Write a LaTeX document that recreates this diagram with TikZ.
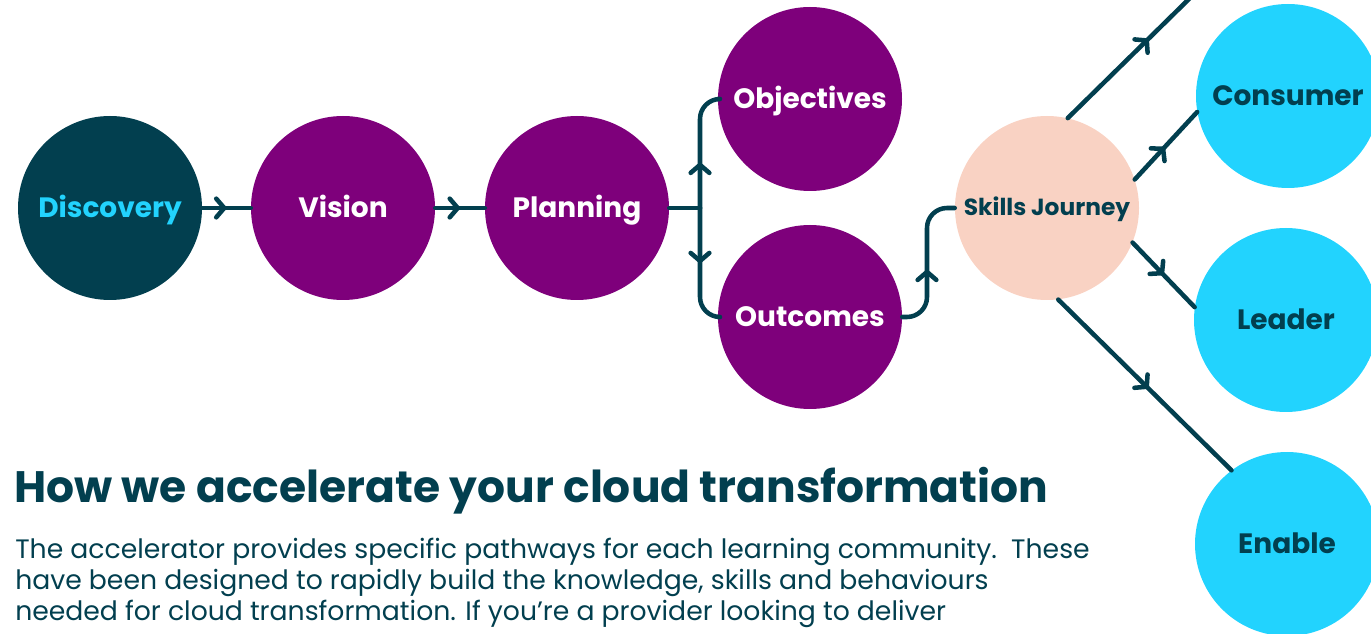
\documentclass[tikz,border=0pt]{standalone}
\usepackage{fontspec}
\setmainfont{Poppins}
\usetikzlibrary{arrows.meta,decorations.markings,calc}
\definecolor{teal}{HTML}{023F4F}
\definecolor{purp}{HTML}{7E007B}
\definecolor{cyanc}{HTML}{22D3FE}
\definecolor{peach}{HTML}{F9D2C3}
\tikzset{
  bub/.style={circle,minimum size=138pt,inner sep=0pt,text height=14pt,text depth=0pt,font=\bfseries\fontsize{21}{21}\selectfont},
  purpbub/.style={bub,fill=purp,text=white},
  cyanbub/.style={bub,fill=cyanc,text=teal},
  conn/.style={draw=teal,line width=3.4pt,line cap=round,line join=round},
  mid/.style={postaction={decorate},decoration={markings,mark=at position #1 with {\arrow[teal,line width=3.4pt]{Straight Barb[length=6pt,width=14pt,round]}}}},
  body/.style={anchor=base west,inner sep=0pt,text=teal,font=\fontsize{20}{20}\selectfont}
}
\begin{document}
\begin{tikzpicture}[x=0.75pt,y=-0.75pt]
\useasboundingbox (0,0) rectangle (1371,634);
\node[bub,fill=teal,text=cyanc] (disc) at (110,208) {Discovery};
\node[purpbub] (vis) at (343,208) {Vision};
\node[purpbub] (plan) at (577,208) {Planning};
\node[purpbub] (obj) at (810,99) {Objectives};
\node[purpbub] (out) at (810,317) {Outcomes};
\node[bub,fill=peach,text=teal,text height=12pt,font=\bfseries\fontsize{17.5}{17.5}\selectfont] (sk) at (1047,208) {Skills Journey};
\node[cyanbub] (con) at (1288,96) {Consumer};
\node[cyanbub] (lead) at (1286,320) {Leader};
\node[cyanbub] (en) at (1287,544) {Enable};
\coordinate (j1) at (700,208);
\coordinate (j2) at (927,208);
\coordinate (topend) at (1190,-2);
\draw[conn,mid=0.5] (disc) -- (vis);
\draw[conn,mid=0.5] (vis) -- (plan);
\draw[conn] (plan) -- (j1);
\draw[conn,rounded corners=15pt,mid=0.37] (j1) |- (obj.west);
\draw[conn,rounded corners=15pt,mid=0.45] (j1) |- (out.west);
\draw[conn,rounded corners=15pt,mid=0.44] (out.east) -| (j2) -- (sk.west);
\draw[conn,mid=0.66] (sk.77) -- (topend);
\draw[conn,mid=0.48] (sk.18) -- (con.190);
\draw[conn,mid=0.5] (sk.-22) -- (lead.172);
\draw[conn,mid=0.52] (sk.-83) -- (en.127);
\node[anchor=base west,inner sep=0pt,text=teal,font=\bfseries\fontsize{33}{33}\selectfont] (head) at (14,503) {How we accelerate your cloud transformation};
\node[body] (l1) at (15,558) {The accelerator provides specific pathways for each learning community.\ \ These};
\node[body] (l2) at (15,589) {have been designed to rapidly build the knowledge, skills and behaviours};
\node[body] (l3) at (15,620) {needed for cloud transformation. If you’re a provider looking to deliver};
\end{tikzpicture}
\end{document}
